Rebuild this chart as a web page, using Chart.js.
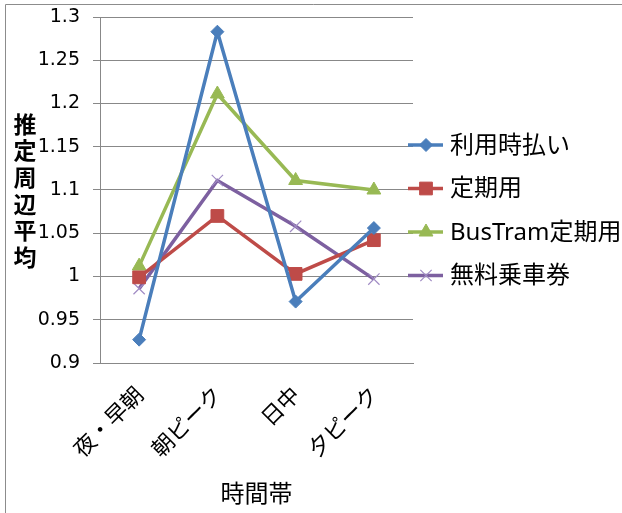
<!DOCTYPE html>
<html>
<head>
<meta charset="utf-8">
<script src="https://cdn.jsdelivr.net/npm/chart.js@4/dist/chart.umd.min.js"></script>
<style>
  html, body { margin: 0; padding: 0; background: #fff; }
</style>
</head>
<body>
<canvas id="chart" width="622" height="513"></canvas>
<script>
const timeBands = ['夜・早朝', '朝ピーク', '日中', '夕ピーク'];
const payPerRide = [0.927, 1.283, 0.971, 1.056];
const commuterPass = [0.999, 1.070, 1.003, 1.042];
const busTramPass = [1.012, 1.211, 1.111, 1.100];
const freeTicket = [0.986, 1.111, 1.058, 0.997];
const seriesNames = ['利用時払い', '定期用', 'BusTram定期用', '無料乗車券'];
const yTicks = [0.9, 0.95, 1, 1.05, 1.1, 1.15, 1.2, 1.25, 1.3];
const yTitle = '推定周辺平均';
const xTitle = '時間帯';

const latinFont = '"DejaVu Sans", "Noto Sans CJK JP", sans-serif';
const legendFont = '"Noto Sans", "Noto Sans CJK JP", sans-serif';
const cjkFont = '"Noto Sans CJK JP", sans-serif';

// frame of the chart object, as in the spreadsheet export
const framePlugin = {
    id: 'frame',
    beforeDraw(chart) {
        const ctx = chart.ctx;
        ctx.save();
        ctx.strokeStyle = '#8c8c8c';
        ctx.lineWidth = 1;
        ctx.beginPath();
        ctx.moveTo(5.5, chart.height);
        ctx.lineTo(5.5, 4.5);
        ctx.lineTo(chart.width, 4.5);
        ctx.stroke();
        ctx.restore();
    }
};

// stacked vertical axis title
const yTitlePlugin = {
    id: 'yTitle',
    afterDraw(chart) {
        const ctx = chart.ctx;
        ctx.save();
        ctx.font = 'bold 23px ' + cjkFont;
        ctx.fillStyle = '#000';
        ctx.textAlign = 'center';
        ctx.textBaseline = 'middle';
        [...yTitle].forEach((ch, i) => ctx.fillText(ch, 25, 124 + i * 26.6));
        ctx.restore();
    }
};

// legend with line + marker swatches
const legendPlugin = {
    id: 'sideLegend',
    afterDraw(chart) {
        const ctx = chart.ctx;
        ctx.save();
        chart.data.datasets.forEach((ds, i) => {
            const y = 145 + i * 43.5;
            ctx.strokeStyle = ds.borderColor;
            ctx.lineWidth = ds.borderWidth;
            ctx.beginPath();
            ctx.moveTo(408, y);
            ctx.lineTo(443, y);
            ctx.stroke();
            ctx.fillStyle = ds.pointBackgroundColor;
            ctx.strokeStyle = ds.pointBorderColor;
            ctx.lineWidth = ds.pointBorderWidth;
            Chart.helpers.drawPoint(ctx, {
                pointStyle: ds.pointStyle,
                radius: ds.pointRadius,
                borderWidth: ds.pointBorderWidth,
                rotation: 0
            }, 426, y);
            ctx.fillStyle = '#000';
            ctx.font = '24px ' + legendFont;
            ctx.textAlign = 'left';
            ctx.textBaseline = 'middle';
            ctx.fillText(ds.label, 450, y + 1);
        });
        ctx.restore();
    }
};

function series(label, data, color, markColor, style, radius, markBorder) {
    return {
        label: label,
        data: data,
        borderColor: color,
        borderWidth: 3.5,
        pointStyle: style,
        pointRadius: radius,
        pointHoverRadius: radius,
        pointBackgroundColor: markColor,
        pointBorderColor: markColor,
        pointBorderWidth: markBorder,
        tension: 0,
        fill: false
    };
}

const ctx = document.getElementById('chart').getContext('2d');
new Chart(ctx, {
    type: 'line',
    data: {
        labels: timeBands,
        datasets: [
            series(seriesNames[0], payPerRide, '#4A7EBB', '#4A7EBB', 'rectRot', 6.5, 1),
            series(seriesNames[1], commuterPass, '#BE4B48', '#BE4B48', 'rect', 9, 1),
            series(seriesNames[2], busTramPass, '#98B954', '#98B954', 'triangle', 8, 1),
            series(seriesNames[3], freeTicket, '#7D60A0', '#A08BC4', 'crossRot', 8, 1.2)
        ]
    },
    options: {
        responsive: false,
        animation: false,
        devicePixelRatio: 1,
        layout: { padding: { left: 0, right: 209, top: 17, bottom: 0 } },
        plugins: {
            legend: { display: false },
            tooltip: { enabled: false }
        },
        scales: {
            x: {
                offset: true,
                grid: { display: false },
                border: { display: true, color: '#888', width: 1 },
                ticks: {
                    color: '#000',
                    font: { family: cjkFont, size: 22 },
                    minRotation: 45,
                    maxRotation: 45,
                    padding: 10
                },
                title: {
                    display: true,
                    text: xTitle,
                    color: '#000',
                    font: { family: cjkFont, size: 24 },
                    padding: { top: 0, bottom: 6 }
                },
                afterFit(scale) { scale.height = 150; }
            },
            y: {
                min: yTicks[0],
                max: yTicks[yTicks.length - 1],
                afterBuildTicks(scale) {
                    scale.ticks = yTicks.map(v => ({ value: v }));
                },
                grid: { color: '#888', lineWidth: 1, tickLength: 7, drawTicks: true },
                border: { display: true, color: '#888', width: 1 },
                ticks: {
                    color: '#000',
                    font: { family: latinFont, size: 19, lineHeight: 0.3 },
                    padding: 13,
                    callback: v => String(Math.round(v * 100) / 100)
                },
                afterFit(scale) { scale.width = 100; }
            }
        }
    },
    plugins: [framePlugin, yTitlePlugin, legendPlugin]
});
</script>
</body>
</html>
